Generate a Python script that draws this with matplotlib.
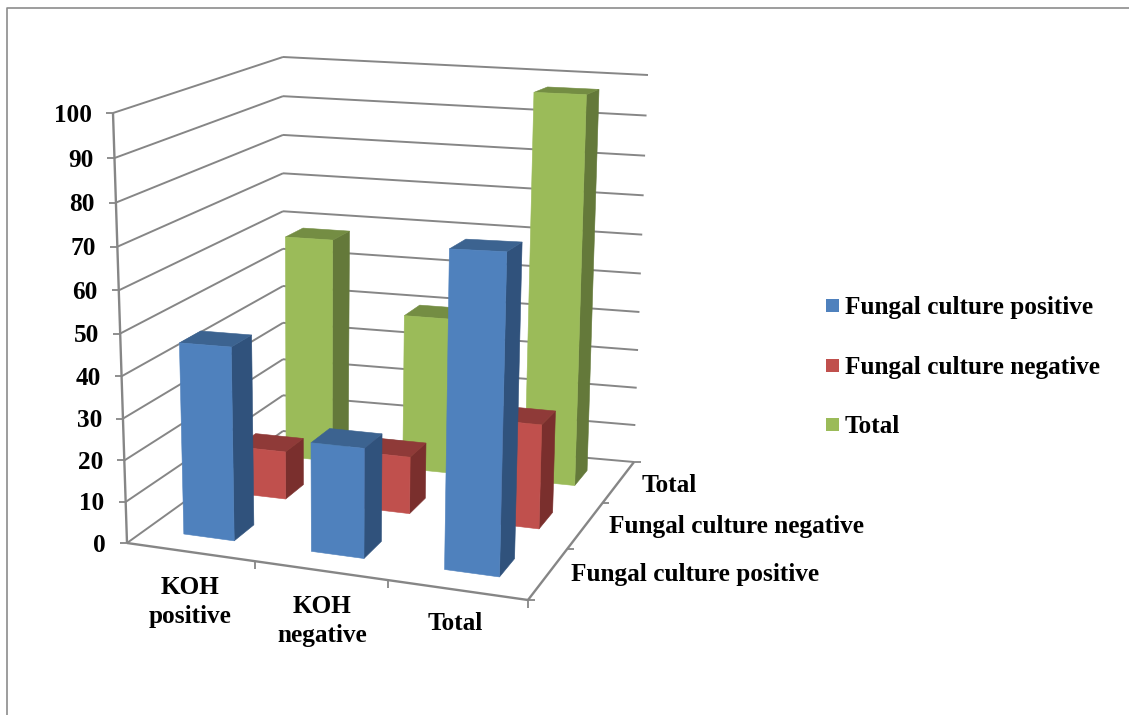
import matplotlib
matplotlib.use("Agg")
import matplotlib.pyplot as plt
from matplotlib.patches import Polygon, Rectangle

categories = ["KOH\npositive", "KOH\nnegative", "Total"]
series_names = ["Fungal culture positive", "Fungal culture negative", "Total"]
culture_positive = [46, 25.5, 71]
culture_negative = [12, 14, 25]
totals = [58, 40, 97]
value_ticks = list(range(0, 101, 10))

series_values = [culture_positive, culture_negative, totals]
front_colors = ["#4F81BD", "#C0504D", "#9BBB59"]
side_colors = ["#30527C", "#7A2F2D", "#64793A"]
top_colors = ["#3C6390", "#8F3A38", "#748D43"]
GRID = "#868686"
TXT = dict(family="Liberation Serif", fontweight="bold", color="black", fontsize=18.2)

plt.rcParams["font.family"] = "Liberation Serif"
fig = plt.figure(figsize=(11.29, 7.15), dpi=100)
ax = fig.add_axes([0, 0, 1, 1])
ax.set_xlim(0, 1129)
ax.set_ylim(715, 0)
ax.axis("off")

# Perspective frame: corners of the chart box in figure pixels (u, v, w in 0..1)
C = {(0, 0, 0): (127, 543), (1, 0, 0): (528, 600), (0, 1, 0): (283, 431), (1, 1, 0): (634, 462),
     (0, 0, 1): (113, 113), (1, 0, 1): (541, 118), (0, 1, 1): (283, 57), (1, 1, 1): (648, 75)}


def warp(t, k):
    return t / (t + k * (1 - t))


def proj(cat, dep, val):
    """cat in 0..3, dep in 0..3, val in 0..100 -> figure pixel position."""
    u, v, w = warp(cat / 3, 1.067), warp(dep / 3, 0.86), warp(val / 100, 1.053)
    x = y = 0.0
    for (a, b, c), (px, py) in C.items():
        f = (u if a else 1 - u) * (v if b else 1 - v) * (w if c else 1 - w)
        x += f * px
        y += f * py
    return x, y


def line(p, q, lw=1.4):
    ax.plot([p[0], q[0]], [p[1], q[1]], color=GRID, lw=lw, solid_capstyle="butt", zorder=1)


# Gridlines on the two walls
for val in value_ticks:
    line(proj(0, 0, val), proj(0, 3, val))
    line(proj(0, 3, val), proj(3, 3, val))
    px, py = proj(0, 0, val)
    line((px - 7, py), (px, py), 1.3)
    ax.text(px - 21, py + 2, str(val), ha="right", va="center", zorder=5, **TXT)

# Axis lines and ticks
line(proj(0, 0, 0), proj(0, 0, 100), 1.7)
line(proj(0, 0, 0), proj(3, 0, 0), 1.7)
line(proj(3, 0, 0), proj(3, 3, 0), 1.7)
for c in range(1, 4):
    px, py = proj(c, 0, 0)
    line((px, py), (px, py + 8), 1.3)
for d in range(0, 4):
    px, py = proj(3, d, 0)
    line((px, py), (px + 7, py), 1.3)

# Bars, from the back row to the front row
GAP_C, GAP_FRONT, GAP_BACK = 0.3, 0.33, 0.3
for d in [2, 1, 0]:
    for c in range(3):
        val = series_values[d][c]
        c0, c1 = c + GAP_C, c + 1 - GAP_C
        d0, d1 = d + GAP_FRONT, d + 1 - GAP_BACK
        front = [proj(c0, d0, 0), proj(c1, d0, 0), proj(c1, d0, val), proj(c0, d0, val)]
        side = [proj(c1, d0, 0), proj(c1, d1, 0), proj(c1, d1, val), proj(c1, d0, val)]
        top = [proj(c0, d0, val), proj(c1, d0, val), proj(c1, d1, val), proj(c0, d1, val)]
        for poly, col in ((side, side_colors[d]), (top, top_colors[d]), (front, front_colors[d])):
            ax.add_patch(Polygon(poly, closed=True, fc=col, ec=col, lw=0.4, zorder=3))

# Category and depth labels
cat_pos = [(190, 602), (322, 621), (455, 623)]
for name, (x, y) in zip(categories, cat_pos):
    ax.text(x, y, name, ha="center", va="center", linespacing=1.35, **TXT)
depth_pos = [(571, 574), (609, 527), (642, 485)]
for name, (x, y) in zip(series_names, depth_pos):
    ax.text(x, y, name, ha="left", va="center", **TXT)

# Legend
for name, col, y in zip(series_names, front_colors, [305.5, 365.5, 424.5]):
    ax.add_patch(Rectangle((826, y - 6.5), 13, 13, fc=col, ec="none"))
    ax.text(845, y + 2, name, ha="left", va="center", **TXT)

# Chart frame
ax.plot([7, 7, 1129], [715, 8, 8], color="#8C8C8C", lw=1.2)

fig.savefig("out.png", dpi=100)
